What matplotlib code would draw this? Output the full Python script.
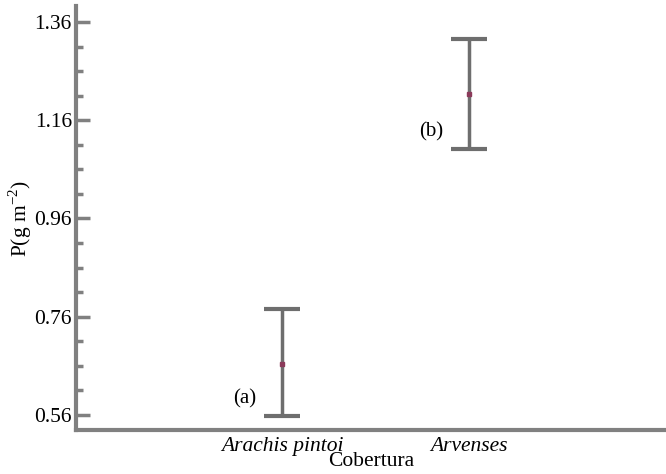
import matplotlib.pyplot as plt

plt.rcParams['font.family'] = ['Liberation Serif', 'DejaVu Serif']
plt.rcParams['mathtext.fontset'] = 'custom'
plt.rcParams['mathtext.rm'] = 'Liberation Serif'

categories = ['Arachis pintoi', 'Arvenses']
means = [0.664, 1.213]
lower = [0.558, 1.101]
upper = [0.776, 1.325]
letters = ['(a)', '(b)']

fig = plt.figure(figsize=(6.66, 4.74), dpi=100)
ax = fig.add_axes([76 / 666, 1 - 430 / 474, 590 / 666, 424 / 474])

grey = '#808080'
xs = [1, 2]
yerr = [[m - l for m, l in zip(means, lower)], [u - m for m, u in zip(means, upper)]]
ax.errorbar(xs, means, yerr=yerr, fmt='none', ecolor='#6e6e6e', elinewidth=2.5,
            capsize=13, capthick=3)
ax.plot(xs, means, ls='none', marker='s', ms=2.5, color='#8b3a5a', zorder=4)

for x, lo, txt in zip(xs, lower, letters):
    ax.text(x - 0.14, lo + 0.035, txt, ha='right', va='center', fontsize=15)

ax.set_xlim(-0.10, 3.05)
ax.set_ylim(0.529, 1.393)
ax.set_yticks([0.56, 0.76, 0.96, 1.16, 1.36])
ax.set_yticklabels(['0.56', '0.76', '0.96', '1.16', '1.36'])
ax.set_yticks([0.61, 0.66, 0.71, 0.81, 0.86, 0.91, 1.01, 1.06, 1.11, 1.21, 1.26, 1.31], minor=True)
ax.set_xticks(xs)
ax.set_xticklabels(categories, fontstyle='italic')

ax.tick_params(axis='y', which='major', direction='in', length=10, width=2.5, color=grey,
               labelsize=15.5, pad=3)
ax.tick_params(axis='y', which='minor', direction='in', length=5, width=2.5, color=grey)
ax.tick_params(axis='x', length=0, labelsize=15.5, pad=5)

for s in ['top', 'right']:
    ax.spines[s].set_visible(False)
for s in ['left', 'bottom']:
    ax.spines[s].set_color(grey)
    ax.spines[s].set_linewidth(3)

ax.set_ylabel(r'P(g m$^{\mathregular{-2}}$)', fontsize=15.5, labelpad=0)
ax.set_xlabel('Cobertura', fontsize=15.5, labelpad=-3)

fig.savefig('out.png', dpi=100)
